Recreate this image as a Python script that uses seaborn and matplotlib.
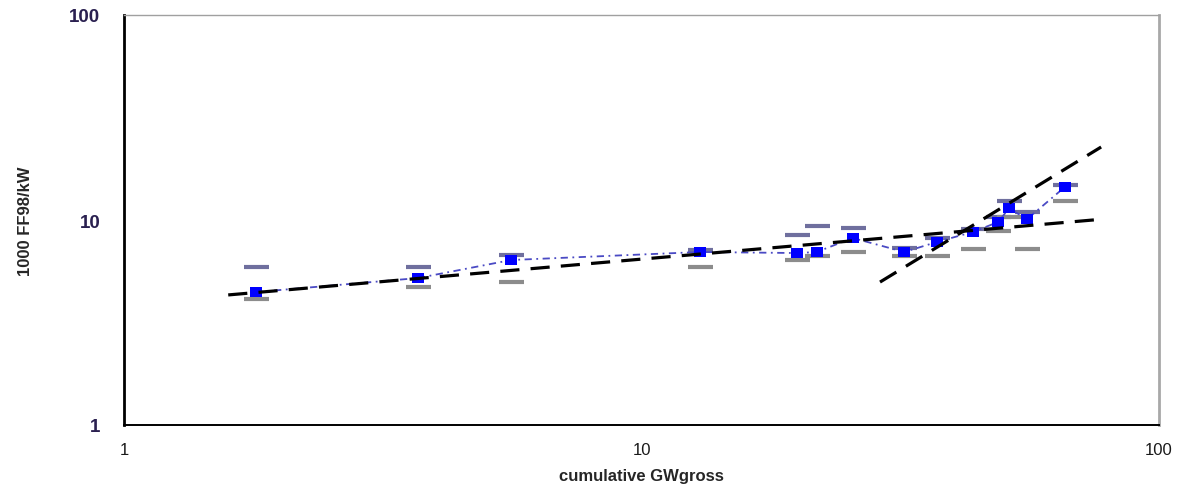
import matplotlib
matplotlib.use("Agg")
import matplotlib.pyplot as plt
import seaborn as sns
import pandas as pd

# cumulative installed capacity (GW gross) and specific cost (1000 FF98 per kW)
gw = [1.80, 3.70, 5.60, 12.97, 19.97, 21.8, 25.6, 32.2, 37.2, 43.7, 48.9, 51.3, 55.6, 65.8]
cost = [4.45, 5.21, 6.38, 6.98, 6.90, 6.98, 8.17, 6.98, 7.81, 8.74, 9.78, 11.4, 10.1, 14.5]
cost_high = [5.9, 5.9, 6.75, 7.1, 8.45, 9.35, 9.14, 7.3, 8.17, 9.0, 10.3, 12.4, 10.9, 14.8]
cost_low = [4.12, 4.71, 4.99, 5.9, 6.38, 6.67, 6.98, 6.67, 6.67, 7.2, 8.84, 10.4, 7.2, 12.4]

# fitted experience curves (power laws, shown as straight lines on log-log axes)
fit_all_x = [1.59, 78.0]
fit_all_y = [4.31, 10.1]
fit_late_x = [28.9, 77.3]
fit_late_y = [4.98, 22.7]

df = pd.DataFrame({"gw": gw, "cost": cost, "high": cost_high, "low": cost_low})

sns.set_style("white")
plt.rcParams["font.family"] = ["Liberation Sans", "DejaVu Sans"]

fig = plt.figure(figsize=(11.89, 4.89), dpi=100)
ax = fig.add_axes([124 / 1189, 63 / 489, 1035 / 1189, 410 / 489])

# range markers (high / low)
sns.lineplot(data=df, x="gw", y="high", ax=ax, linestyle="none", marker="_",
             markersize=18, markeredgewidth=3, color="#6f6f9e",
             markeredgecolor="#6f6f9e", zorder=3)
sns.lineplot(data=df, x="gw", y="low", ax=ax, linestyle="none", marker="_",
             markersize=18, markeredgewidth=3, color="#8c8c8c",
             markeredgecolor="#8c8c8c", zorder=3)

# mean cost series
rect = [(-1.35, -1), (1.35, -1), (1.35, 1), (-1.35, 1), (-1.35, -1)]
sns.lineplot(data=df, x="gw", y="cost", ax=ax, color="#4a4ac4",
             linewidth=1.3, linestyle=(0, (4, 2.5, 1, 2.5)), zorder=4)
sns.lineplot(data=df, x="gw", y="cost", ax=ax, linestyle="none", marker=rect,
             markersize=9, markeredgewidth=0, color="#0000ff", zorder=5)

# fitted curves
sns.lineplot(x=fit_all_x, y=fit_all_y, ax=ax, color="black", linewidth=2.3,
             linestyle=(0, (6, 3.5)), zorder=6)
sns.lineplot(x=fit_late_x, y=fit_late_y, ax=ax, color="black", linewidth=2.3,
             linestyle=(0, (6, 3.5)), zorder=6)

ax.set_xscale("log")
ax.set_yscale("log")
ax.set_xlim(1, 100)
ax.set_ylim(1, 100)
ax.set_xticks([1, 10, 100])
ax.set_xticklabels(["1", "10", "100"])
ax.set_yticks([1, 10, 100])
ax.set_yticklabels(["1", "10", "100"])
ax.minorticks_off()
ax.tick_params(axis="x", which="major", direction="out", length=5, width=1.2,
               color="black", pad=7, labelsize=12, labelcolor="#1a1a1a")
ax.tick_params(axis="y", which="major", direction="out", length=6, width=1.2,
               color="black", pad=11, labelsize=13.5, labelcolor="#2a2050")
for lab in ax.get_yticklabels():
    lab.set_fontweight("bold")

for side in ["left", "bottom"]:
    ax.spines[side].set_color("black")
ax.spines["left"].set_linewidth(2)
ax.spines["bottom"].set_linewidth(1.4)
ax.spines["top"].set_color("#a0a0a0")
ax.spines["top"].set_linewidth(1.0)
ax.spines["right"].set_color("#a8a8a8")
ax.spines["right"].set_linewidth(2.0)

ax.set_xlabel("cumulative GWgross", fontsize=12, fontweight="bold", labelpad=8)
ax.set_ylabel("1000 FF98/kW", fontsize=12, fontweight="bold", labelpad=26)

fig.savefig("out.png", dpi=100)
